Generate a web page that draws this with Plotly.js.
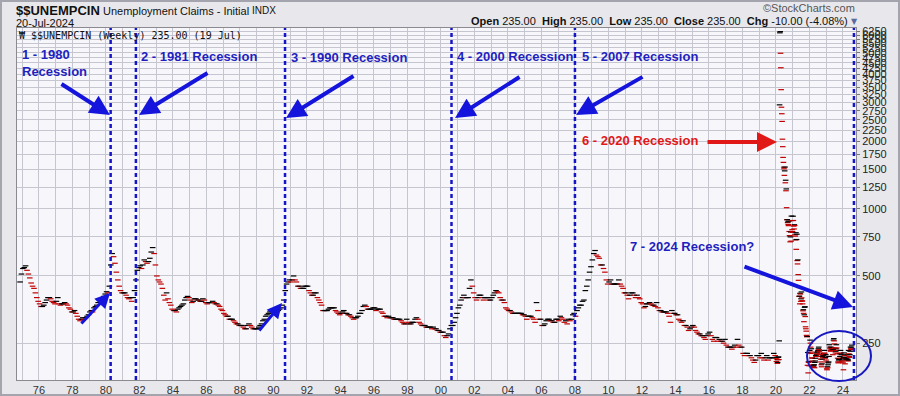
<!DOCTYPE html>
<html><head><meta charset="utf-8">
<script src="https://cdn.plot.ly/plotly-3.0.1.min.js"></script>
<style>
html,body{margin:0;padding:0;background:#e8e8ec;overflow:hidden}
#wrap{position:relative;width:900px;height:396px}
#chart{width:900px;height:396px}
#frame{position:absolute;left:0;top:0;width:900px;height:396px;box-sizing:border-box;border:2px solid #a4a4ae;pointer-events:none}
</style>
</head><body><div id="wrap"><div id="chart"></div><div id="frame"></div></div>
<script>
// Monthly initial claims (thousands), starting Nov 1974
const claims1970s = [
  470, 510,
  540, 545, 555, 530, 510, 490, 465, 450, 440, 420, 400, 385,
  375, 365, 365, 370, 380, 390, 400, 400, 395, 385, 380, 375,
  385, 400, 375, 370, 375, 375, 380, 375, 370, 360, 355, 345,
  345, 350, 340, 330, 320, 315, 320, 325, 320, 325, 330, 335,
  345, 350, 345, 360, 365, 370, 380, 390, 395, 400, 405, 415
];
const claims1980s = [
  425, 420, 450, 560, 630, 610, 570, 520, 480, 450, 430, 420,
  420, 420, 410, 400, 395, 400, 385, 400, 430, 480, 530, 545,
  555, 540, 560, 590, 580, 570, 580, 600, 640, 670, 630, 560,
  500, 480, 470, 460, 440, 410, 390, 420, 395, 380, 370, 355,
  350, 350, 345, 355, 360, 365, 370, 375, 390, 400, 405, 400,
  390, 380, 385, 395, 395, 390, 390, 385, 385, 395, 390, 380,
  375, 380, 380, 380, 385, 380, 375, 375, 370, 365, 355, 350,
  340, 335, 330, 330, 320, 320, 320, 315, 310, 305, 305, 300,
  300, 300, 295, 290, 290, 300, 305, 300, 295, 290, 290, 290,
  290, 295, 300, 305, 315, 320, 330, 335, 340, 345, 350, 355
];
const claims1990s = [
  355, 350, 345, 350, 355, 360, 370, 390, 430, 460, 470, 480,
  470, 480, 500, 480, 470, 450, 450, 440, 440, 440, 450, 450,
  450, 430, 420, 410, 410, 420, 420, 400, 390, 380, 370, 350,
  350, 350, 350, 355, 360, 360, 360, 360, 350, 345, 340, 335,
  340, 345, 350, 340, 340, 335, 335, 330, 325, 320, 325, 325,
  330, 340, 340, 350, 365, 370, 365, 355, 355, 355, 355, 360,
  360, 350, 355, 355, 355, 345, 340, 330, 330, 325, 330, 325,
  325, 325, 320, 320, 320, 320, 320, 315, 310, 305, 305, 320,
  310, 305, 305, 310, 310, 320, 325, 320, 310, 305, 300, 300,
  300, 295, 295, 295, 295, 290, 295, 290, 290, 285, 285, 280
];
const claims2000s = [
  280, 280, 270, 265, 270, 275, 290, 300, 300, 310, 325, 340,
  360, 370, 390, 400, 410, 400, 400, 400, 440, 480, 450, 420,
  400, 390, 400, 410, 410, 400, 390, 400, 400, 400, 390, 390,
  400, 410, 420, 430, 425, 420, 400, 390, 390, 380, 360, 355,
  350, 350, 345, 340, 340, 340, 340, 340, 340, 340, 335, 335,
  330, 320, 330, 330, 330, 325, 320, 310, 380, 350, 320, 320,
  300, 300, 305, 315, 320, 320, 315, 315, 310, 310, 320, 320,
  315, 330, 325, 320, 310, 315, 305, 320, 315, 320, 335, 340,
  330, 350, 360, 370, 370, 385, 390, 430, 450, 480, 520, 550,
  590, 630, 650, 620, 610, 600, 560, 560, 540, 520, 480, 460
];
const claims2010s = [
  470, 480, 460, 460, 460, 460, 460, 480, 460, 450, 440, 420,
  420, 410, 395, 410, 420, 420, 410, 400, 410, 400, 395, 380,
  375, 360, 365, 375, 375, 380, 375, 370, 370, 365, 380, 360,
  350, 350, 345, 345, 345, 345, 340, 330, 310, 350, 340, 340,
  335, 335, 320, 315, 310, 315, 300, 300, 295, 285, 290, 295,
  300, 295, 285, 280, 275, 275, 270, 270, 265, 260, 270, 275,
  280, 270, 260, 255, 265, 265, 255, 260, 255, 255, 250, 260,
  245, 240, 240, 240, 235, 240, 245, 240, 260, 245, 240, 240,
  225, 220, 225, 225, 220, 220, 215, 210, 205, 210, 220, 220,
  215, 225, 215, 210, 215, 220, 210, 215, 215, 215, 225, 220
];
// Weekly claims from 3 Jan 2020 to 19 Jul 2024
const weekly2020 = [214,207,216,212,203, 205,211,216,217, 211,256,2920,6137, 6215,4971,4281,3415,
  2849,2664,2461,2049,1897, 1698,1613,1535,1510, 1411,1478,1537,1307,1342, 1204,1227,1011,893,
  893,866,873,849, 840,880,791,758,757, 711,748,787,716, 927,885,806,790];
const weekly2021 = [784,926,886,836,812, 848,841,765,754, 725,781,658,728, 769,586,566,590,507,
  478,444,405,406, 375,418,415,385, 395,424,399,387,386, 375,349,353,340, 312,335,362,364,
  329,296,290,283,271, 267,268,199,227, 184,206,205,198,207];
const weekly2022 = [232,258,250,240, 225,236,228,215, 214,208,200,196, 198,195,200,194,205,
  208,214,220,218, 222,226,224,228, 230,232,236,240,234, 230,226,222,218, 212,206,200,196,202,
  212,218,216,220, 224,222,232,226, 224,214,216,222,210];
const weekly2023 = [206,192,190,196, 194,200,204,206, 218,246,240,236,232, 230,240,236,234,
  232,238,236,222, 234,258,262,256,248, 238,232,226,230, 236,246,238,232, 224,214,206,204,210,
  212,206,212,218, 224,232,226,214, 222,206,210,208,214];
const weekly2024 = [204,190,216,226, 220,214,202,214, 216,212,212,212,222, 210,212,208,210,
  232,224,218,216,222, 230,240,236,234, 240,245,235];

const yTicks = [250,500,750,1000,1250,1500,1750,2000,2250,2500,2750,3000,3250,3500,3750,4000,4250,4500,4750,5000,5250,5500,5750,6000,6250];
const recessionLines = ['1980-04-12','1981-10-15','1990-09-10','2000-08-18','2008-01-01','2024-08-28'];

function pad(n){return (n<10?'0':'')+n;}
const xs = [], ys = [];
const monthly = claims1970s.concat(claims1980s, claims1990s, claims2000s, claims2010s);
monthly.forEach((v,i)=>{
  const m = 10 + i; const y = 1974 + Math.floor(m/12); const mm = m%12 + 1;
  xs.push(y+'-'+pad(mm)+'-15'); ys.push(v);
});
const weekly = weekly2020.concat(weekly2021, weekly2022, weekly2023, weekly2024);
const wStart = Date.UTC(2020,0,3);
weekly.forEach((v,i)=>{
  const d = new Date(wStart + i*7*86400000);
  xs.push(d.getUTCFullYear()+'-'+pad(d.getUTCMonth()+1)+'-'+pad(d.getUTCDate())); ys.push(v);
});
const colors = ys.map((v,i)=> (i===0 || v>=ys[i-1]) ? '#000000' : '#c00000');

const L=17, R=856, T=28, B=380;
const px = x => (x-L)/(R-L);
const py = y => (B-y)/(B-T);

const BLUE='#1f1fc0', ABLUE='#1414dc', RED='#e01818';
const ann = [];
function txt(text,x,y,opt){ann.push(Object.assign({text:text,xref:'paper',yref:'paper',x:px(x),y:py(y),xanchor:'left',yanchor:'middle',showarrow:false,borderpad:0},opt||{}));}
const bf = (c)=>({family:'Liberation Sans, Arial, sans-serif',size:13,color:c});
txt('<b>1 - 1980<br>Recession</b>',21,63,{font:bf(BLUE),align:'left'});
txt('<b>2 - 1981 Recession</b>',140,56,{font:bf(BLUE)});
txt('<b>3 - 1990 Recession</b>',290,57,{font:bf(BLUE)});
txt('<b>4 - 2000 Recession</b>',456,56,{font:bf(BLUE)});
txt('<b>5 - 2007 Recession</b>',581,56,{font:bf(BLUE)});
txt('<b>6 - 2020 Recession</b>',581,140,{font:bf(RED)});
txt('<b>7 - 2024 Recession?</b>',629,246,{font:bf(BLUE)});
// header
txt('<b>$$UNEMPCIN</b>',15,10,{font:{family:'Liberation Sans, Arial',size:13,color:'#111'}});
txt('Unemployment Claims - Initial',102,11,{font:{family:'Liberation Sans, Arial',size:11,color:'#111'}});
txt('INDX',251,11,{font:{family:'Liberation Sans, Arial',size:10,color:'#111'}});
txt('20-Jul-2024',15,23,{font:{family:'Liberation Sans, Arial',size:11,color:'#111'}});
txt('©StockCharts.com',856,8,{xanchor:'right',font:{family:'Liberation Sans, Arial',size:11,color:'#555'}});
txt('<b>Open</b> 235.00  <b>High</b> 235.00  <b>Low</b> 235.00  <b>Close</b> 235.00  <b>Chg</b> -10.00 (-4.08%)',849,21,{xanchor:'right',font:{family:'Liberation Sans, Arial',size:11,color:'#111'}});
txt('▼',850,21,{font:{family:'DejaVu Sans',size:8,color:'#5a6a9a'}});
txt('₩ $$UNEMPCIN (Weekly) 235.00 (19 Jul)',18,36,{font:{family:'DejaVu Sans Mono, monospace',size:10,color:'#111'}});

function arrow(hx,hy,tx,ty,color,w){ann.push({text:'',xref:'paper',yref:'paper',x:px(hx),y:py(hy),ax:tx-hx,ay:ty-hy,showarrow:true,arrowhead:2,arrowsize:1,arrowwidth:w,arrowcolor:color,standoff:0,startstandoff:0});}
arrow(110,115,60,83,ABLUE,4);
arrow(139,115,209,72,ABLUE,4);
arrow(286,118,355,75,ABLUE,4);
arrow(455,118,521,76,ABLUE,4);
arrow(576,115,644,76,ABLUE,4);
arrow(777,142,706,142,RED,4);
arrow(853,307,743,266,ABLUE,4);
arrow(110,293,80,325,ABLUE,3);
arrow(282,303,258,332,ABLUE,3);

const shapes = recessionLines.map(d=>({type:'line',xref:'x',yref:'paper',x0:d,x1:d,y0:0,y1:1,line:{color:'#1414c8',width:2.5,dash:'4px,3px'}}));
shapes.push({type:'circle',xref:'paper',yref:'paper',x0:px(807),x1:px(871),y0:py(381),y1:py(331),line:{color:'#1818c0',width:2}});

const trace = {x:xs,y:ys,type:'scatter',mode:'markers',hoverinfo:'skip',
  marker:{symbol:'line-ew',size:4,line:{width:1.2,color:colors}}};

const layout = {
  width:900,height:396,margin:{l:L,r:900-R,t:T,b:396-B},
  paper_bgcolor:'#e8e8ec',plot_bgcolor:'#f7f7fb',showlegend:false,
  font:{family:'Liberation Sans, Arial, sans-serif',size:11,color:'#222'},
  xaxis:{type:'date',range:['1974-09-09','2024-10-12'],tickformat:'%y',dtick:'M24',tick0:'1976-01-01',
    ticks:'',showgrid:true,gridcolor:'#c6c6d0',gridwidth:1,
    minor:{dtick:'M12',showgrid:true,gridcolor:'#c6c6d0'},
    showline:true,linecolor:'#8a8a90',mirror:true,zeroline:false,tickfont:{size:11,color:'#333'}},
  yaxis:{type:'log',side:'right',range:[Math.log10(171),Math.log10(6450)],tickvals:yTicks,ticktext:yTicks.map(String),
    ticks:'outside',ticklen:3,tickcolor:'#777',showgrid:true,gridcolor:'#c6c6d0',
    showline:true,linecolor:'#8a8a90',mirror:true,zeroline:false,tickfont:{size:11,color:'#222'}},
  annotations:ann,shapes:shapes,hovermode:false
};
Plotly.newPlot('chart',[trace],layout,{displayModeBar:false,staticPlot:true});
</script></body></html>
